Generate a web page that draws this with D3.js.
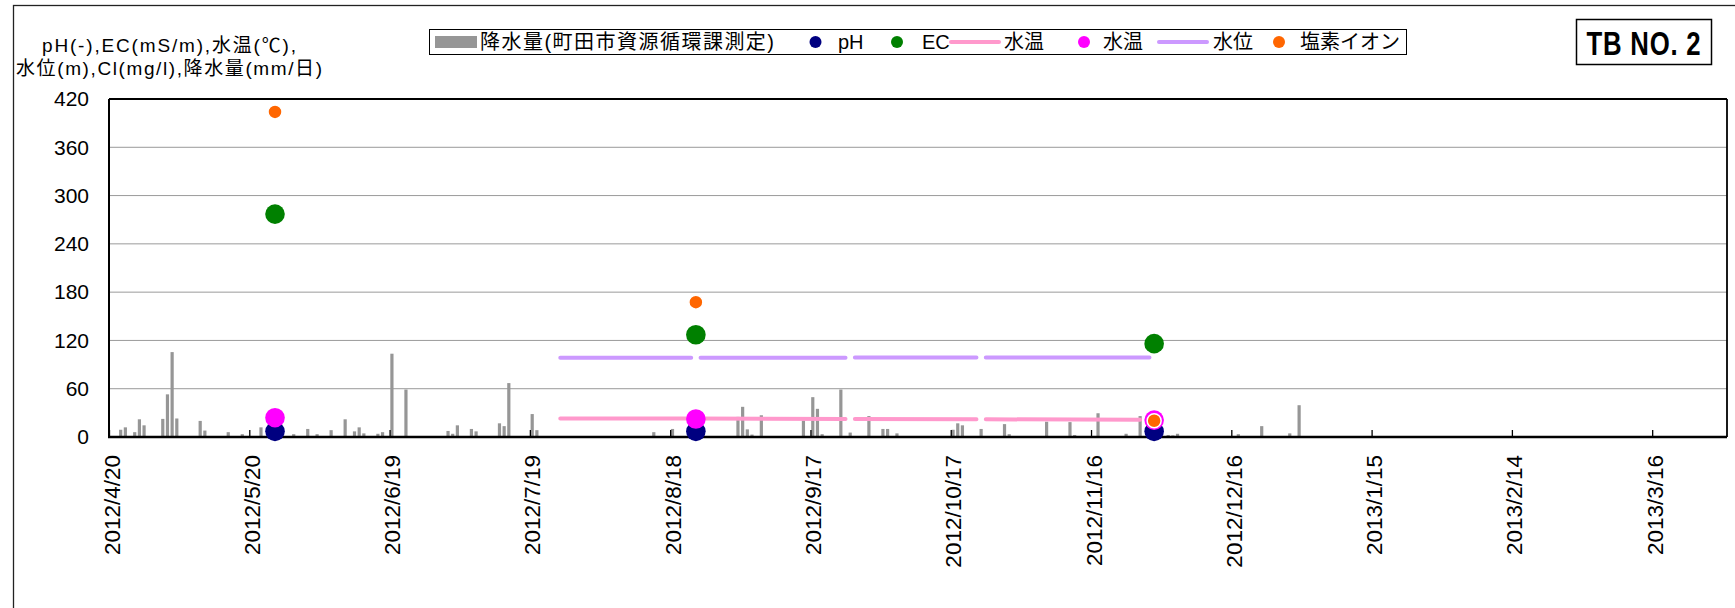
<!DOCTYPE html>
<html>
<head>
<meta charset="utf-8">
<script src="https://cdn.jsdelivr.net/npm/d3@7"></script>
<style>
  body { margin: 0; background: #fff; }
  text { font-family: "Liberation Sans", "Noto Sans CJK JP", sans-serif; }
</style>
</head>
<body>
<div id="chart"></div>
<script>

// daily rainfall (mm/day)
var rainDates = ["2012-04-22","2012-04-23","2012-04-24","2012-04-25","2012-04-26","2012-04-27",
  "2012-05-01","2012-05-02","2012-05-03","2012-05-04","2012-05-06","2012-05-09","2012-05-10","2012-05-15","2012-05-18","2012-05-22","2012-05-29",
  "2012-06-01","2012-06-03","2012-06-06","2012-06-08","2012-06-09","2012-06-10","2012-06-11","2012-06-12","2012-06-13","2012-06-16","2012-06-17","2012-06-19","2012-06-20","2012-06-22","2012-06-25",
  "2012-07-01","2012-07-02","2012-07-03","2012-07-04","2012-07-06","2012-07-07","2012-07-12","2012-07-13","2012-07-14","2012-07-19","2012-07-20","2012-07-21","2012-07-22",
  "2012-08-13","2012-08-14","2012-08-18",
  "2012-09-01","2012-09-02","2012-09-03","2012-09-04","2012-09-06","2012-09-15","2012-09-16","2012-09-17","2012-09-18","2012-09-19","2012-09-22","2012-09-23","2012-09-25","2012-09-29",
  "2012-10-02","2012-10-03","2012-10-05","2012-10-17","2012-10-18","2012-10-19","2012-10-23","2012-10-28","2012-10-29",
  "2012-11-05","2012-11-06","2012-11-11","2012-11-12","2012-11-17","2012-11-23","2012-11-26",
  "2012-12-02","2012-12-03","2012-12-04","2012-12-06","2012-12-17","2012-12-22","2012-12-28","2012-12-29","2012-12-30"];
var rainValues = [9, 12, 1, 6, 22, 14.5,
  22.5, 53, 105.5, 23, 1, 20, 8, 6, 3.5, 12, 3.5,
  10, 3.5, 8.5, 1, 22, 1, 7, 12, 4.5, 4, 6, 103.5, 1, 59, 1,
  7.5, 4, 14.5, 1, 10, 7, 17, 13.5, 67, 28.5, 8.5, 1, 1,
  1, 6, 10,
  25, 37.5, 9.5, 3, 27, 20.5, 1, 49.5, 35, 3.5, 1, 59, 5.5, 26,
  10, 10, 4.5, 9, 17, 14.5, 10, 16, 3.5,
  1, 19, 18.5, 2.5, 29.5, 4, 26,
  2.5, 2, 4, 1, 3.5, 13.5, 4.5, 1, 39.5];

// sampling days
var sampleDates = ["2012-05-25", "2012-08-23", "2012-11-29"];
var phValues = [7.0, 7.0, 7.0];
var ecValues = [277, 127, 116];
var tempValues = [24, 22.3, 21];
var clValues = [404, 167.5, 20.2];

// continuous logger (null = missing day)
var tempLineDates = ["2012-07-25","2012-08-23","2012-09-24","2012-09-25","2012-09-26","2012-10-22","2012-10-23","2012-10-24","2012-11-26"];
var tempLineValues = [23.0, 23.0, 22.5, null, 22.5, 22.0, null, 22.0, 21.5];
var levelLineDates = ["2012-07-25","2012-08-22","2012-08-23","2012-08-24","2012-09-24","2012-09-25","2012-09-26","2012-10-22","2012-10-23","2012-10-24","2012-11-28"];
var levelLineValues = [98.5, 98.5, null, 98.5, 98.6, null, 98.9, 98.9, null, 98.9, 98.7];

var xTickLabels = ["2012/4/20","2012/5/20","2012/6/19","2012/7/19","2012/8/18","2012/9/17",
  "2012/10/17","2012/11/16","2012/12/16","2013/1/15","2013/2/14","2013/3/16"];
var yTicks = [0, 60, 120, 180, 240, 300, 360, 420];

var width = 1735, height = 608;
var plot = { left: 109, right: 1727, top: 99, bottom: 437 };

var parse = d3.utcParse("%Y-%m-%d");
var parseTick = d3.utcParse("%Y/%m/%d");
var halfDay = 12 * 3600 * 1000;

var x = d3.scaleUtc()
    .domain([parse("2012-04-20"), parse("2013-04-01")])
    .range([plot.left, plot.right]);
var y = d3.scaleLinear()
    .domain([0, 420])
    .range([plot.bottom, plot.top]);

// day slot centre (Excel date axis puts points between tick marks)
function xc(s) { return x(new Date(parse(s).getTime() + halfDay)); }

var svg = d3.select('#chart').append('svg')
    .attr('width', width)
    .attr('height', height);

// chart area frame
svg.append('rect')
    .attr('x', 13.5).attr('y', 5.5)
    .attr('width', width).attr('height', height)
    .attr('fill', '#fff')
    .attr('stroke', '#222').attr('stroke-width', 1.3);

// gridlines
svg.append('g').selectAll('line')
    .data(yTicks.filter(function(d) { return d > 0 && d < 420; }))
    .enter().append('line')
    .attr('x1', plot.left).attr('x2', plot.right)
    .attr('y1', function(d) { return y(d); })
    .attr('y2', function(d) { return y(d); })
    .attr('stroke', '#9a9a9a').attr('stroke-width', 1);

// rainfall bars
var rain = rainDates.map(function(d, i) { return { d: d, v: rainValues[i] }; });
svg.append('g').selectAll('rect')
    .data(rain)
    .enter().append('rect')
    .attr('x', function(d) { return xc(d.d) - 1.6; })
    .attr('width', 3.2)
    .attr('y', function(d) { return y(d.v); })
    .attr('height', function(d) { return y(0) - y(d.v); })
    .attr('fill', '#969696');

// axes
var xAxis = d3.axisBottom(x)
    .tickValues(xTickLabels.map(parseTick))
    .tickFormat(d3.utcFormat("%Y/%-m/%-d"))
    .tickSizeInner(-7).tickSizeOuter(0);
var gx = svg.append('g')
    .attr('transform', 'translate(0,' + plot.bottom + ')')
    .call(xAxis);
gx.select('.domain').remove();
gx.selectAll('line').attr('stroke', '#000').attr('stroke-width', 1.3);
gx.selectAll('text')
    .attr('transform', 'rotate(-90)')
    .attr('x', -18).attr('y', 2).attr('dy', '0.36em')
    .attr('text-anchor', 'end')
    .attr('fill', '#000')
    .style('font-size', '22.5px');

var yAxis = d3.axisLeft(y).tickValues(yTicks).tickSize(0).tickPadding(20);
var gy = svg.append('g')
    .attr('transform', 'translate(' + plot.left + ',0)')
    .call(yAxis);
gy.select('.domain').remove();
gy.selectAll('text').attr('fill', '#000').style('font-size', '21px');

// plot border
svg.append('line').attr('x1', plot.left).attr('x2', plot.right)
    .attr('y1', plot.top).attr('y2', plot.top)
    .attr('stroke', '#000').attr('stroke-width', 1.8);
svg.append('line').attr('x1', plot.right).attr('x2', plot.right)
    .attr('y1', plot.top).attr('y2', plot.bottom)
    .attr('stroke', '#000').attr('stroke-width', 1.8);
svg.append('line').attr('x1', plot.left).attr('x2', plot.left)
    .attr('y1', plot.top).attr('y2', plot.bottom + 1)
    .attr('stroke', '#000').attr('stroke-width', 2);
svg.append('line').attr('x1', plot.left - 1).attr('x2', plot.right)
    .attr('y1', plot.bottom).attr('y2', plot.bottom)
    .attr('stroke', '#000').attr('stroke-width', 2.4);

// logger lines
var line = d3.line()
    .defined(function(d) { return d.v != null; })
    .x(function(d) { return xc(d.d); })
    .y(function(d) { return y(d.v); });

function series(dates, values) {
    return dates.map(function(d, i) { return { d: d, v: values[i] }; });
}

svg.append('path')
    .datum(series(tempLineDates, tempLineValues))
    .attr('d', line)
    .attr('fill', 'none').attr('stroke', '#ff99cc')
    .attr('stroke-width', 4).attr('stroke-linecap', 'round');

// sample markers
var samples = sampleDates.map(function(d, i) {
    return { d: d, ph: phValues[i], ec: ecValues[i], t: tempValues[i], cl: clValues[i] };
});

function dots(key, color, r) {
    return svg.append('g').selectAll('circle')
        .data(samples)
        .enter().append('circle')
        .attr('cx', function(d) { return xc(d.d); })
        .attr('cy', function(d) { return y(d[key]); })
        .attr('r', r)
        .attr('fill', color);
}

dots('ph', '#000080', 9.8);
dots('ec', '#008000', 9.8);
dots('t', '#ff00ff', 9.8);

svg.append('path')
    .datum(series(levelLineDates, levelLineValues))
    .attr('d', line)
    .attr('fill', 'none').attr('stroke', '#cc99ff')
    .attr('stroke-width', 4).attr('stroke-linecap', 'round');

dots('cl', '#ff6600', 7).attr('stroke', '#fff').attr('stroke-width', 1.5);

// y axis title
var yTitle = svg.append('g').attr('font-size', '19px');
yTitle.append('text').attr('x', 169).attr('y', 52)
    .attr('text-anchor', 'middle')
    .attr('textLength', 254).attr('lengthAdjust', 'spacing')
    .text('pH(-),EC(mS/m),水温(℃),');
yTitle.append('text').attr('x', 169).attr('y', 75)
    .attr('text-anchor', 'middle')
    .attr('textLength', 306).attr('lengthAdjust', 'spacing')
    .text('水位(m),Cl(mg/l),降水量(mm/日)');

// legend
var legend = svg.append('g').attr('font-size', '20px');
legend.append('rect')
    .attr('x', 429.5).attr('y', 29.5).attr('width', 977).attr('height', 25)
    .attr('fill', '#fff').attr('stroke', '#000').attr('stroke-width', 1);

var ly = 42;
legend.append('rect').attr('x', 435).attr('y', ly - 6).attr('width', 42).attr('height', 12).attr('fill', '#969696');
legend.append('line').attr('x1', 951).attr('x2', 999).attr('y1', ly).attr('y2', ly)
    .attr('stroke', '#ff99cc').attr('stroke-width', 4).attr('stroke-linecap', 'round');
legend.append('line').attr('x1', 1159).attr('x2', 1207).attr('y1', ly).attr('y2', ly)
    .attr('stroke', '#cc99ff').attr('stroke-width', 4).attr('stroke-linecap', 'round');

var legendDots = [
    { x: 815.5, c: '#000080' },
    { x: 897, c: '#008000' },
    { x: 1084, c: '#ff00ff' },
    { x: 1279, c: '#ff6600' }
];
legend.selectAll('circle.ld').data(legendDots).enter().append('circle')
    .attr('class', 'ld')
    .attr('cx', function(d) { return d.x; }).attr('cy', ly)
    .attr('r', 6).attr('fill', function(d) { return d.c; });

var legendTexts = [
    { x: 480, t: '降水量(町田市資源循環課測定)', w: 294 },
    { x: 838, t: 'pH' },
    { x: 922, t: 'EC' },
    { x: 1004, t: '水温' },
    { x: 1103, t: '水温' },
    { x: 1213, t: '水位' },
    { x: 1300, t: '塩素イオン' }
];
legend.selectAll('text').data(legendTexts).enter().append('text')
    .attr('x', function(d) { return d.x; })
    .attr('y', ly).attr('dy', '0.36em')
    .attr('textLength', function(d) { return d.w || null; })
    .attr('lengthAdjust', 'spacing')
    .text(function(d) { return d.t; });

// station label
svg.append('rect')
    .attr('x', 1576.5).attr('y', 19.5).attr('width', 135).attr('height', 45)
    .attr('fill', '#fff').attr('stroke', '#000').attr('stroke-width', 1.5);
svg.append('text')
    .attr('transform', 'translate(1644,55) scale(0.78,1)')
    .attr('text-anchor', 'middle')
    .style('font-family', '"Liberation Sans Narrow", "Liberation Sans", sans-serif')
    .style('font-weight', 'bold')
    .style('font-size', '33px')
    .style('letter-spacing', '1px')
    .text('TB NO. 2');

</script>
</body>
</html>
